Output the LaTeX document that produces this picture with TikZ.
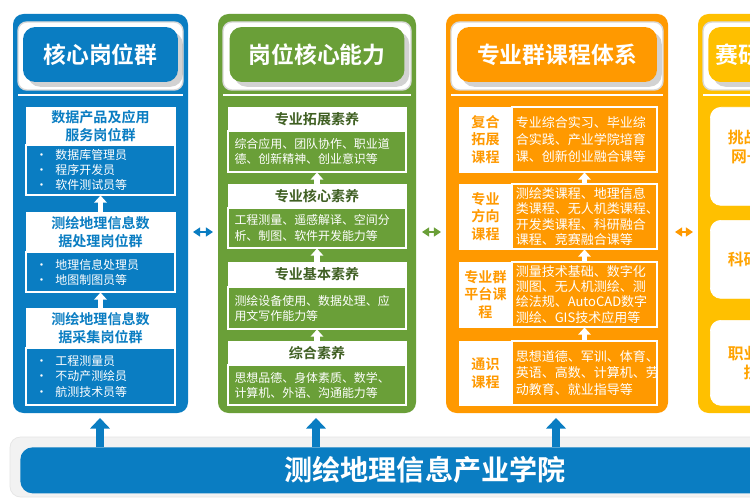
\documentclass[tikz,border=0pt]{standalone}
\usepackage{fontspec}
\setmainfont{Noto Sans CJK SC}[BoldFont={Noto Sans CJK SC Bold}]
\usepackage{xcolor}
\usetikzlibrary{arrows.meta, positioning, shadows}
\definecolor{cblue}{HTML}{0A7DC2}
\definecolor{cgreen}{HTML}{6A9F38}
\definecolor{corange}{HTML}{FF9900}
\definecolor{cyellow}{HTML}{FFC000}
\tikzset{
  column/.style={rounded corners=6pt, draw=none},
  frame/.style={rounded corners=5pt, fill=white, draw=black!15, line width=0.8pt},
  header/.style={rounded corners=7pt, text=white, font=\bfseries\fontsize{13}{15}\selectfont, drop shadow={opacity=0.35}},
  title/.style={fill=white, draw=white, font=\bfseries\fontsize{8}{10}\selectfont, align=center, inner sep=0pt},
  body/.style={draw=white, line width=0.6pt, text=white, font=\fontsize{6.8}{8.6}\selectfont, align=left, inner sep=0pt},
  upar/.style={line width=3pt, white, -{Triangle[width=7pt,length=4pt]}},
  sidear/.style={line width=1.6pt, {Triangle[width=5pt,length=4pt]}-{Triangle[width=5pt,length=4pt]}},
  basear/.style={line width=4pt, cblue, -{Triangle[width=11pt,length=6pt]}},
}
\begin{document}
\begin{tikzpicture}[x=0.02cm, y=-0.02cm]
\clip (0,0) rectangle (750,500);
\fill[white] (0,0) rectangle (750,500);

% columns
\fill[column, cblue] (13,14) rectangle (188,413);
\fill[column, cgreen] (218,14) rectangle (416,413);
\fill[column, corange] (446,14) rectangle (668,413);
\fill[column, cyellow] (698,14) rectangle (790,413);

% headers
\foreach \xa/\xb/\col in {18/183/cblue, 223/411/cgreen, 451/663/corange, 703/790/cyellow}{
  \draw[frame] (\xa,22) rectangle (\xb,90);
  \draw[white, line width=0.8pt] (\xa,95) -- (\xb,95);
}
\node (hblue) [header, fill=cblue, minimum width=3.1cm, minimum height=1.1cm] at (100.5,54.5) {核心岗位群};
\node (hgreen) [header, fill=cgreen, minimum width=3.5cm, minimum height=1.1cm] at (317,54.5) {岗位核心能力};
\node (horange) [header, fill=corange, minimum width=4.0cm, minimum height=1.1cm] at (557,54.5) {专业群课程体系};
\node (hyellow) [header, fill=cyellow, minimum width=3.5cm, minimum height=1.1cm, anchor=west, text width=3.2cm, align=left] at (708,54.5) {赛研创融合};

% blue column
\node (jt1) [title, text=cblue, minimum width=2.98cm, minimum height=0.76cm] at (100.5,126) {数据产品及应用\\服务岗位群};
\node (jb1) [body, minimum width=2.98cm, minimum height=1cm, text width=2.6cm] at (100.5,170) {•\ \ 数据库管理员\\•\ \ 程序开发员\\•\ \ 软件测试员等};
\node (jt2) [title, text=cblue, minimum width=2.98cm, minimum height=0.8cm] at (100.5,232) {测绘地理信息数\\据处理岗位群};
\node (jb2) [body, minimum width=2.98cm, minimum height=0.8cm, text width=2.6cm] at (100.5,272) {•\ \ 地理信息处理员\\•\ \ 地图制图员等};
\node (jt3) [title, text=cblue, minimum width=2.98cm, minimum height=0.8cm] at (100.5,328) {测绘地理信息数\\据采集岗位群};
\node (jb3) [body, minimum width=2.98cm, minimum height=1.14cm, text width=2.6cm] at (100.5,376.5) {•\ \ 工程测量员\\•\ \ 不动产测绘员\\•\ \ 航测技术员等};
\draw[upar] (jt3.north) ++(0,0) -- (jb2.south);
\draw[upar] (jt2.north) -- (jb1.south);

% green column
\node (nt1) [title, text=cgreen!60!black, minimum width=3.56cm, minimum height=0.48cm] at (317,119) {专业拓展素养};
\node (nb1) [body, minimum width=3.56cm, minimum height=0.82cm, text width=3.3cm] at (317,151.5) {综合应用、团队协作、职业道\\德、创新精神、创业意识等};
\node (nt2) [title, text=cgreen!60!black, minimum width=3.56cm, minimum height=0.48cm] at (317,196) {专业核心素养};
\node (nb2) [body, minimum width=3.56cm, minimum height=0.8cm, text width=3.3cm] at (317,228) {工程测量、遥感解译、空间分\\析、制图、软件开发能力等};
\node (nt3) [title, text=cgreen!60!black, minimum width=3.56cm, minimum height=0.5cm] at (317,274.5) {专业基本素养};
\node (nb3) [body, minimum width=3.56cm, minimum height=0.84cm, text width=3.3cm] at (317,308) {测绘设备使用、数据处理、应\\用文写作能力等};
\node (nt4) [title, text=cgreen!60!black, minimum width=3.56cm, minimum height=0.48cm] at (317,353) {综合素养};
\node (nb4) [body, minimum width=3.56cm, minimum height=0.8cm, text width=3.3cm] at (317,385) {思想品德、身体素质、数学、\\计算机、外语、沟通能力等};
\draw[upar] (nt4.north) -- (nb3.south);
\draw[upar] (nt3.north) -- (nb2.south);
\draw[upar] (nt2.north) -- (nb1.south);

% orange column
\node (ct1) [title, text=corange, minimum width=1.06cm, minimum height=1.3cm] at (485.5,139.5) {复合\\拓展\\课程};
\node (cb1) [body, font=\fontsize{7.4}{9.4}\selectfont, minimum width=2.9cm, minimum height=1.3cm, text width=2.75cm] at (584.5,139.5) {专业综合实习、毕业综\\合实践、产业学院培育\\课、创新创业融合课等};
\node (ct2) [title, text=corange, minimum width=1.06cm, minimum height=1.3cm] at (485.5,216.5) {专业\\方向\\课程};
\node (cb2) [body, font=\fontsize{7.4}{8.6}\selectfont, minimum width=2.9cm, minimum height=1.3cm, text width=2.75cm] at (584.5,216.5) {测绘类课程、地理信息\\类课程、无人机类课程、\\开发类课程、科研融合\\课程、竞赛融合课等};
\node (ct3) [title, text=corange, minimum width=1.06cm, minimum height=1.3cm] at (485.5,294.5) {专业群\\平台课\\程};
\node (cb3) [body, font=\fontsize{7.4}{8.6}\selectfont, minimum width=2.9cm, minimum height=1.3cm, text width=2.75cm] at (584.5,294.5) {测量技术基础、数字化\\测图、无人机测绘、测\\绘法规、AutoCAD数字\\测绘、GIS技术应用等};
\node (ct4) [title, text=corange, minimum width=1.06cm, minimum height=1.28cm] at (485.5,373) {通识\\课程};
\node (cb4) [body, font=\fontsize{7.4}{9.4}\selectfont, minimum width=2.9cm, minimum height=1.28cm, text width=2.75cm] at (584.5,373) {思想道德、军训、体育、\\英语、高数、计算机、劳\\动教育、就业指导等};
\draw[upar] (cb4.north) -- (cb3.south);
\draw[upar] (cb3.north) -- (cb2.south);
\draw[upar] (cb2.north) -- (cb1.south);

% yellow column
\node (yt1) [title, text=corange!90!yellow, fill=white, rounded corners=6pt, anchor=north west, minimum width=2.6cm, minimum height=1.96cm, font=\bfseries\fontsize{9}{11}\selectfont] at (710,107) {挑战杯、互联\\网+、创新创\\业大赛};
\node (yt2) [title, text=corange!90!yellow, fill=white, rounded corners=6pt, anchor=north west, minimum width=2.6cm, minimum height=1.56cm, font=\bfseries\fontsize{9}{11}\selectfont] at (710,220) {科研项目融合};
\node (yt3) [title, text=corange!90!yellow, fill=white, rounded corners=6pt, anchor=north west, minimum width=2.6cm, minimum height=1.7cm, font=\bfseries\fontsize{9}{11}\selectfont] at (710,320) {职业技能大赛\\技能竞赛};

% links between columns
\coordinate (sa1) at (193,232); \coordinate (sa2) at (213,232);
\coordinate (sb1) at (422,232); \coordinate (sb2) at (441,232);
\coordinate (sc1) at (675,232); \coordinate (sc2) at (693,232);
\draw[sidear, cblue] (sa1) -- (sa2);
\draw[sidear, cgreen] (sb1) -- (sb2);
\draw[sidear, corange] (sc1) -- (sc2);

% base
\draw[rounded corners=6pt, fill=black!5, draw=black!10] (10,437) rectangle (790,497);
\node (base) [fill=cblue, rounded corners=7pt, minimum width=15.4cm, minimum height=0.92cm, anchor=north west, inner sep=0pt] at (20,447) {};
\node (basetxt) [text=white, font=\bfseries\fontsize{16}{18}\selectfont] at (425,470) {测绘地理信息产业学院};
\draw[basear] (100,447) -- (100,418);
\draw[basear] (316,447) -- (316,418);
\draw[basear] (556,447) -- (556,418);
\end{tikzpicture}
\end{document}
